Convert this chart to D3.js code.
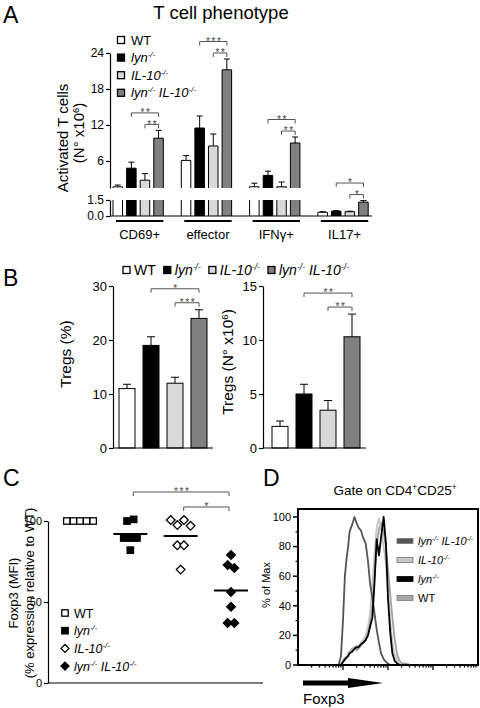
<!DOCTYPE html>
<html><head><meta charset="utf-8">
<script src="https://cdn.jsdelivr.net/npm/d3@7"></script>
<style>
body{margin:0;background:#fff}
svg{display:block}
text{font-family:"Liberation Sans",Arial,Helvetica,sans-serif;white-space:pre}
</style>
</head><body>
<svg id="c" width="480" height="708"></svg>
<script>
// ---------------- DATA ----------------
const genotypes = ["WT", "lyn", "il10", "dko"];
// Panel A: activated T cells (N° x10^6)
const tcellGroups = ["CD69+", "effector", "IFNγ+", "IL17+"];
const tcellWT   = [1.7, 6.1, 1.7, 0.35];
const tcellLyn  = [4.8, 11.5, 3.6, 0.45];
const tcellIL10 = [2.8, 8.5, 1.7, 0.4];
const tcellDKO  = [9.8, 21.2, 9.0, 1.3];
const tcellWTErr   = [0.3, 0.8, 0.6, 0.05];
const tcellLynErr  = [1.0, 2.0, 0.7, 0.05];
const tcellIL10Err = [1.1, 2.0, 0.8, 0.05];
const tcellDKOErr  = [1.3, 1.8, 1.0, 0.15];
const tcellUpperTicks = [6, 12, 18, 24];
const tcellLowerTicks = [0, 1.5];
// significance: [group, fromGenotypeIdx, toGenotypeIdx, level, label]
const sigA = [
  ["CD69+", 1, 3, 1, "**"], ["CD69+", 2, 3, 0, "**"],
  ["effector", 1, 3, 1, "***"], ["effector", 2, 3, 0, "**"],
  ["IFNγ+", 1, 3, 1, "**"], ["IFNγ+", 2, 3, 0, "**"],
  ["IL17+", 1, 3, 1, "*"], ["IL17+", 2, 3, 0, "*"]
];
// Panel B: Tregs
const tregPct    = [11, 19, 12, 24];
const tregPctErr = [0.8, 1.6, 1.1, 1.6];
const tregNum    = [2.0, 5.0, 3.5, 10.3];
const tregNumErr = [0.5, 0.9, 0.9, 2.1];
const tregPctTicks = [0, 10, 20, 30];
const tregNumTicks = [0, 5, 10, 15];
const sigBPct = [[1, 3, 1, "*"], [2, 3, 0, "***"]];
const sigBNum = [[1, 3, 1, "**"], [2, 3, 0, "**"]];
// Panel C: Foxp3 MFI (% relative to WT)
const foxWT   = [100, 100, 100, 100, 100];
const foxLyn  = [100, 101, 89.5, 89.5, 89.5, 82];
const foxIL10 = [100.6, 97.5, 100.6, 97, 85, 85, 70];
const foxDKO  = [79, 72.8, 71, 56.2, 47, 37, 37];
const foxTicks = [0, 50, 100];
const sigC = [[1, 3, 1, "***"], [2, 3, 0, "*"]];
// Panel D: Foxp3 histograms (% of Max) on log channel
const foxp3Channel = [1, 6, 8, 9, 10, 11, 12, 13, 14, 16, 18, 20, 22, 25, 28, 32, 36, 40, 45, 50, 56, 63, 70, 80, 90, 100, 112, 125, 140, 160, 180, 200, 250, 320, 10000];
const histDKO  = [0, 0, 0, 6, 30, 60, 72, 80, 90, 95, 100, 96, 93, 91, 86, 82, 70, 55, 45, 35, 24, 15, 8, 4, 2, 1, 0, 0, 0, 0, 0, 0, 0, 0, 0];
const histLyn  = [0, 0, 0, 0, 2, 4, 5, 6, 8, 9, 11, 12, 12, 14, 15, 17, 20, 26, 32, 55, 85, 74, 86, 100, 82, 45, 22, 8, 3, 1, 0, 0, 0, 0, 0];
const histIL10 = [0, 0, 0, 1, 3, 5, 6, 7, 8, 10, 12, 13, 13, 15, 17, 20, 26, 35, 55, 75, 93, 99, 92, 80, 68, 50, 30, 15, 7, 3, 1, 0, 0, 0, 0];
const histWT   = [0, 0, 0, 0, 2, 3, 5, 7, 9, 11, 12, 10, 11, 13, 15, 17, 22, 30, 42, 60, 80, 92, 96, 90, 80, 65, 48, 32, 18, 7, 3, 1, 1, 0, 0];
const histTicks = [0, 20, 40, 60, 80, 100];

// ---------------- STYLE ----------------
const genoFill = ["#ffffff", "#000000", "#d9d9d9", "#808080"];
const genoLabels = [
  [["WT", ""]],
  [["lyn", "i"], ["-/-", "is"]],
  [["IL-10", "i"], ["-/-", "is"]],
  [["lyn", "i"], ["-/-", "is"], [" IL-10", "i"], ["-/-", "is"]]
];
const svg = d3.select("#c");

function rich(g, parts, fs) {
  const t = g.append("text").attr("font-size", fs);
  let up = false;
  parts.forEach(([s, st]) => {
    const ts = t.append("tspan").text(s);
    if (st.includes("i")) ts.attr("font-style", "italic");
    if (st.includes("s")) {
      if (!up) ts.attr("dy", -fs * 0.38);
      ts.attr("font-size", fs * 0.62);
      up = true;
    } else if (up) { ts.attr("dy", fs * 0.38); up = false; }
  });
  return t;
}
function styleAxis(g, fs) {
  g.attr("font-family", null).attr("font-size", fs);
  g.select(".domain").attr("stroke", "#000").attr("stroke-width", 1.2);
  g.selectAll(".tick line").attr("stroke", "#000").attr("stroke-width", 1.2);
  g.selectAll(".tick text").attr("fill", "#000");
}
function bracket(g, xa, xb, y, label) {
  g.append("path").attr("d", `M${xa},${y + 4}V${y}H${xb}V${y + 4}`)
    .attr("fill", "none").attr("stroke", "#555").attr("stroke-width", 1);
  g.append("text").attr("x", (xa + xb) / 2 + 1).attr("y", y + 3.2)
    .attr("text-anchor", "middle").attr("font-size", 10).attr("letter-spacing", 1.6)
    .attr("fill", "#444").text(label);
}
function panelLetter(x, y, s) {
  svg.append("text").attr("x", x).attr("y", y).attr("font-size", 23).text(s);
}

// ---------------- PANEL A ----------------
panelLetter(3, 23, "A");
svg.append("text").attr("x", 221).attr("y", 19).attr("text-anchor", "middle")
  .attr("font-size", 18.5).text("T cell phenotype");
const gA = svg.append("g");
const aX = d3.scaleBand().domain(tcellGroups).range([104, 377.2]);
const aIn = d3.scaleBand().domain(genotypes).range([0, 54.4]).paddingInner(0.3).paddingOuter(0.15);
const aOff = (aX.bandwidth() - 54.4) / 2;
const yUp = d3.scaleLinear().domain([1.5, 24]).range([188, 53]);
const yLow = d3.scaleLinear().domain([0, 1.5]).range([216, 200]);
const BREAK = 1.5;
const yA = v => v > BREAK ? yUp(v) : yLow(v);
const tcellVals = [tcellWT, tcellLyn, tcellIL10, tcellDKO];
const tcellErrs = [tcellWTErr, tcellLynErr, tcellIL10Err, tcellDKOErr];
const aCenter = (grp, i) => aX(grp) + aOff + aIn(genotypes[i]) + aIn.bandwidth() / 2;

tcellGroups.forEach((grp, j) => {
  genotypes.forEach((gen, i) => {
    const v = tcellVals[i][j], e = tcellErrs[i][j];
    const x0 = aX(grp) + aOff + aIn(gen), x1 = x0 + aIn.bandwidth(), xc = (x0 + x1) / 2;
    const lowTop = yLow(Math.min(v, BREAK));
    gA.append("rect").attr("x", x0).attr("y", lowTop).attr("width", x1 - x0)
      .attr("height", yLow(0) - lowTop).attr("fill", genoFill[i]);
    const lp = v > BREAK ? `M${x0},${yLow(0)}V${lowTop}M${x1},${yLow(0)}V${lowTop}`
                         : `M${x0},${yLow(0)}V${lowTop}H${x1}V${yLow(0)}`;
    gA.append("path").attr("d", lp).attr("fill", "none").attr("stroke", "#000").attr("stroke-width", 1);
    if (v > BREAK) {
      gA.append("rect").attr("x", x0).attr("y", yUp(v)).attr("width", x1 - x0)
        .attr("height", yUp(BREAK) - yUp(v)).attr("fill", genoFill[i]);
      gA.append("path").attr("d", `M${x0},${yUp(BREAK)}V${yUp(v)}H${x1}V${yUp(BREAK)}`)
        .attr("fill", "none").attr("stroke", "#000").attr("stroke-width", 1);
    }
    gA.append("path").attr("d", `M${xc},${yA(v)}V${yA(v + e)}M${xc - 3},${yA(v + e)}H${xc + 3}`)
      .attr("fill", "none").attr("stroke", "#000").attr("stroke-width", 1);
  });
  const ux0 = aX(grp) + aOff + aIn(genotypes[0]) + 3, ux1 = aX(grp) + aOff + aIn(genotypes[3]) + aIn.bandwidth();
  gA.append("line").attr("x1", ux0).attr("x2", ux1).attr("y1", 221).attr("y2", 221)
    .attr("stroke", "#000").attr("stroke-width", 2);
  gA.append("text").attr("x", (ux0 + ux1) / 2).attr("y", 239).attr("text-anchor", "middle")
    .attr("font-size", 13).text(grp);
});
sigA.forEach(([grp, a, b, lvl, lab]) => {
  const j = tcellGroups.indexOf(grp);
  const top = d3.min(genotypes, (g, i) => yA(tcellVals[i][j] + tcellErrs[i][j]));
  bracket(gA, aCenter(grp, a), aCenter(grp, b), top - 6 - 11.5 * lvl, lab);
});
const axUp = gA.append("g").attr("transform", "translate(110,0)")
  .call(d3.axisLeft(yUp).tickValues(tcellUpperTicks).tickSize(4).tickSizeOuter(0).tickPadding(2));
styleAxis(axUp, 12);
const axLow = gA.append("g").attr("transform", "translate(110,0)")
  .call(d3.axisLeft(yLow).tickValues(tcellLowerTicks).tickFormat(d3.format(".1f")).tickSize(4).tickSizeOuter(0).tickPadding(2));
styleAxis(axLow, 12);
gA.append("line").attr("x1", 110).attr("x2", 372).attr("y1", yLow(0)).attr("y2", yLow(0))
  .attr("stroke", "#000").attr("stroke-width", 1.2);
const aLab = gA.append("g").attr("transform", "translate(63,138) rotate(-90)");
aLab.append("text").attr("text-anchor", "middle").attr("dy", "0.35em").attr("font-size", 15).text("Activated T cells");
const aLab2 = gA.append("g").attr("transform", "translate(79,133) rotate(-90)");
rich(aLab2, [["(N° x10", ""], ["6", "s"], [")", ""]], 15).attr("text-anchor", "middle").attr("dy", "0.35em");
genotypes.forEach((g, i) => {
  const cy = 40 + i * 17.6;
  gA.append("rect").attr("x", 117.5).attr("y", cy - 3.5).attr("width", 7).attr("height", 7)
    .attr("fill", genoFill[i]).attr("stroke", "#000").attr("stroke-width", 1.3);
  rich(gA, genoLabels[i], 13).attr("x", 131).attr("y", cy + 4.5);
});

// ---------------- PANEL B ----------------
panelLetter(3, 286, "B");
const gB = svg.append("g");
{
  let x = 123;
  genotypes.forEach((g, i) => {
    gB.append("rect").attr("x", x).attr("y", 266.5).attr("width", 7).attr("height", 7)
      .attr("fill", genoFill[i]).attr("stroke", "#000").attr("stroke-width", 1.3);
    const t = rich(gB, genoLabels[i], 14).attr("x", x + 11).attr("y", 275);
    x = x + 11 + t.node().getComputedTextLength() + 8;
  });
}
function treg(axX, xStart, vals, errs, ticks, sig, yLabelParts, labX) {
  const y = d3.scaleLinear().domain([0, ticks[ticks.length - 1]]).range([448, 286]);
  const x = d3.scaleBand().domain(genotypes).range([xStart, xStart + 100]).paddingInner(1 / 3).paddingOuter(0.25);
  genotypes.forEach((g, i) => {
    const x0 = x(g), x1 = x0 + x.bandwidth(), xc = (x0 + x1) / 2;
    gB.append("rect").attr("x", x0).attr("y", y(vals[i])).attr("width", x.bandwidth())
      .attr("height", y(0) - y(vals[i])).attr("fill", genoFill[i]).attr("stroke", "#000").attr("stroke-width", 1);
    gB.append("path").attr("d", `M${xc},${y(vals[i])}V${y(vals[i] + errs[i])}M${xc - 4},${y(vals[i] + errs[i])}H${xc + 4}`)
      .attr("fill", "none").attr("stroke", "#000").attr("stroke-width", 1);
  });
  const top = d3.min(genotypes, (g, i) => y(vals[i] + errs[i]));
  sig.forEach(([a, b, lvl, lab]) => {
    bracket(gB, x(genotypes[a]) + x.bandwidth() / 2, x(genotypes[b]) + x.bandwidth() / 2, top - 7 - 14 * lvl, lab);
  });
  const ax = gB.append("g").attr("transform", `translate(${axX},0)`)
    .call(d3.axisLeft(y).tickValues(ticks).tickSize(4).tickSizeOuter(0).tickPadding(2));
  styleAxis(ax, 13);
  gB.append("line").attr("x1", axX).attr("x2", xStart + 100).attr("y1", y(0)).attr("y2", y(0))
    .attr("stroke", "#000").attr("stroke-width", 1.2);
  const lg = gB.append("g").attr("transform", `translate(${labX},${yLabelParts.cy}) rotate(-90)`);
  rich(lg, yLabelParts.parts, 15.5).attr("text-anchor", "middle").attr("dy", "0.35em");
}
treg(113, 113, tregPct, tregPctErr, tregPctTicks, sigBPct, { cy: 354, parts: [["Tregs (%)", ""]] }, 66);
treg(263, 266, tregNum, tregNumErr, tregNumTicks, sigBNum, { cy: 362, parts: [["Tregs (N° x10", ""], ["6", "s"], [")", ""]] }, 228);

// ---------------- PANEL C ----------------
panelLetter(3, 486, "C");
const gC = svg.append("g");
const cY = d3.scaleLinear().domain([0, 100]).range([683, 521]);
const cX = d3.scalePoint().domain(genotypes).range([80, 231]);
const foxSets = [foxWT, foxLyn, foxIL10, foxDKO];
function symbol(g, kind, filled, cx, cy, s) {
  if (kind === "sq") {
    g.append("rect").attr("x", cx - s / 2).attr("y", cy - s / 2).attr("width", s).attr("height", s)
      .attr("fill", filled ? "#000" : "#fff").attr("stroke", "#000").attr("stroke-width", 1.3);
  } else {
    const h = s * 0.62;
    g.append("path").attr("d", `M${cx},${cy - h}L${cx + h},${cy}L${cx},${cy + h}L${cx - h},${cy}Z`)
      .attr("fill", filled ? "#000" : "#fff").attr("stroke", "#000").attr("stroke-width", 1.3);
  }
}
const symKind = ["sq", "sq", "di", "di"], symFill = [false, true, false, true];
foxSets.forEach((vals, i) => {
  const cx = cX(genotypes[i]);
  const clusters = [];
  vals.forEach(v => {
    const c = clusters[clusters.length - 1];
    if (c && Math.abs(v - c[0]) <= 5) c.push(v); else clusters.push([v]);
  });
  const sp = 6.6;
  clusters.forEach(c => c.forEach((v, k) => {
    symbol(gC, symKind[i], symFill[i], cx + (k - (c.length - 1) / 2) * sp, cY(v), i < 2 ? 6.4 : 7);
  }));
  if (i > 0) {
    const m = d3.mean(vals);
    gC.append("line").attr("x1", cx - 17).attr("x2", cx + 17).attr("y1", cY(m)).attr("y2", cY(m))
      .attr("stroke", "#000").attr("stroke-width", 2);
  }
});
sigC.forEach(([a, b, lvl, lab]) => {
  bracket(gC, cX(genotypes[a]) + 3, cX(genotypes[b]) - 2, cY(100) - 14 - 15 * lvl, lab);
});
const axC = gC.append("g").attr("transform", "translate(48,0)")
  .call(d3.axisLeft(cY).tickValues(foxTicks).tickSize(4).tickSizeOuter(0).tickPadding(2));
styleAxis(axC, 11);
gC.append("line").attr("x1", 48).attr("x2", 263).attr("y1", cY(0)).attr("y2", cY(0))
  .attr("stroke", "#000").attr("stroke-width", 1.2);
const cl1 = gC.append("g").attr("transform", "translate(13,593) rotate(-90)");
cl1.append("text").attr("text-anchor", "middle").attr("dy", "0.35em").attr("font-size", 13).text("Foxp3 (MFI)");
const cl2 = gC.append("g").attr("transform", "translate(29,593) rotate(-90)");
cl2.append("text").attr("text-anchor", "middle").attr("dy", "0.35em").attr("font-size", 13).text("(% expression relative to WT)");
genotypes.forEach((g, i) => {
  const cy = 613 + i * 17.7;
  symbol(gC, symKind[i], symFill[i], 65, cy, 6.4);
  rich(gC, genoLabels[i], 12.5).attr("x", 74).attr("y", cy + 4.5);
});

// ---------------- PANEL D ----------------
panelLetter(263, 486, "D");
const gD = svg.append("g");
rich(gD, [["Gate on CD4", ""], ["+", "s"], ["CD25", ""], ["+", "s"]], 13.5)
  .attr("x", 395).attr("y", 495).attr("text-anchor", "middle");
const dX = d3.scaleLog().domain([1, 10000]).range([298, 478]);
const dY = d3.scaleLinear().domain([0, 100]).range([665, 517]);
const line = d3.line().x(d => dX(d[0])).y(d => dY(d[1]));
const histSets = [histWT, histIL10, histDKO, histLyn];
const histCol = ["#a0a0a0", "#c4c4c4", "#555555", "#000000"];
histSets.forEach((h, k) => {
  gD.append("path").attr("d", line(foxp3Channel.map((c, i) => [c, h[i]])))
    .attr("fill", "none").attr("stroke", histCol[k]).attr("stroke-width", 1.8).attr("stroke-linejoin", "round");
});
gD.append("rect").attr("x", 298).attr("y", 509).attr("width", 180).attr("height", 156)
  .attr("fill", "none").attr("stroke", "#000").attr("stroke-width", 2);
histTicks.forEach(t => {
  gD.append("line").attr("x1", 293).attr("x2", 298).attr("y1", dY(t)).attr("y2", dY(t)).attr("stroke", "#000").attr("stroke-width", 1.5);
  gD.append("text").attr("x", 291).attr("y", dY(t)).attr("dy", "0.35em").attr("text-anchor", "end").attr("font-size", 11).text(t);
});
d3.range(10, 100, 20).forEach(t => {
  gD.append("line").attr("x1", 295.5).attr("x2", 298).attr("y1", dY(t)).attr("y2", dY(t)).attr("stroke", "#000").attr("stroke-width", 1.2);
});
[1, 10, 100, 1000].forEach(dec => {
  d3.range(1, 10).forEach(k => {
    const v = k * dec;
    if (v <= 1) return;
    const len = k === 1 ? 5 : 2.5;
    gD.append("line").attr("x1", dX(v)).attr("x2", dX(v)).attr("y1", 665).attr("y2", 665 + len)
      .attr("stroke", "#000").attr("stroke-width", 1.3);
  });
});
const dl = gD.append("g").attr("transform", "translate(266,585) rotate(-90)");
dl.append("text").attr("text-anchor", "middle").attr("dy", "0.35em").attr("font-size", 11).text("% of Max");
// legend order: dko, il10, lyn, WT (genotype indices)
const dLegOrder = [3, 2, 1, 0];
const dLegCol = ["#a8a8a8", "#000000", "#c8c8c8", "#555555"];
dLegOrder.forEach((gi, r) => {
  const cy = 541 + r * 19;
  gD.append("rect").attr("x", 397).attr("y", cy - 2.5).attr("width", 16).attr("height", 5)
    .attr("fill", dLegCol[gi]).attr("stroke", gi === 1 ? "#000" : "#777").attr("stroke-width", 0.8);
  rich(gD, genoLabels[gi], 11).attr("x", 418).attr("y", cy + 4);
});
gD.append("path").attr("d", "M303,680.5H348L348,678L383,683L348,688L348,685.5H303Z").attr("fill", "#000");
gD.append("text").attr("x", 303).attr("y", 704).attr("font-size", 15).text("Foxp3");
</script>
</body></html>
